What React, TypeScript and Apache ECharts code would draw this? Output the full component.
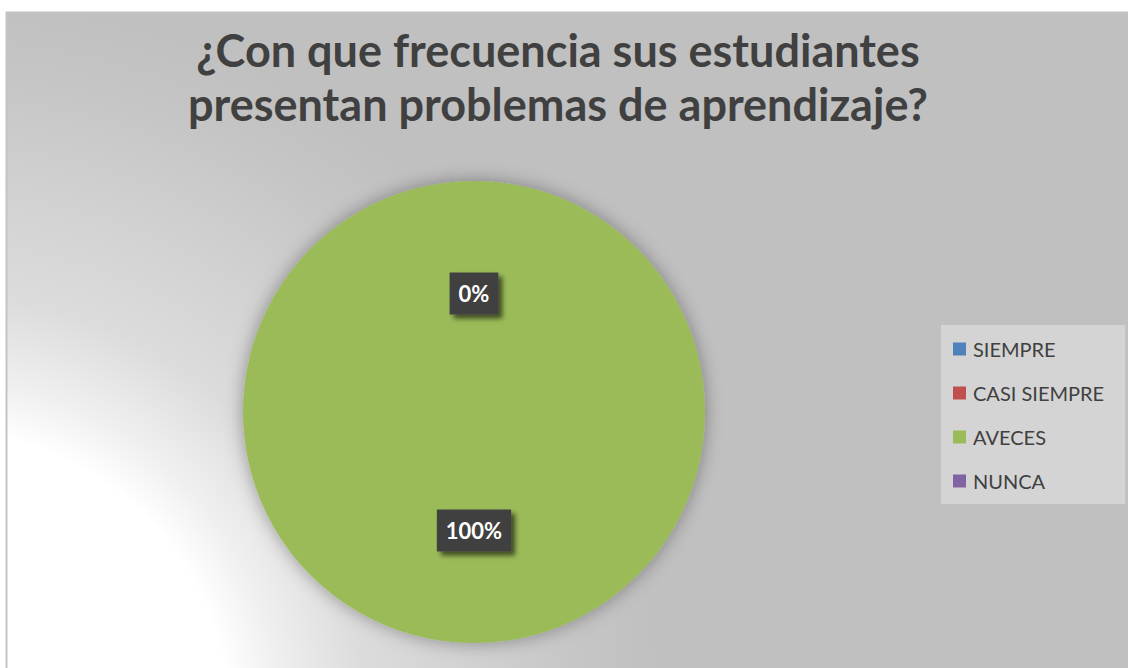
import React, { useEffect, useRef } from "react";
import * as echarts from "echarts";

const titleLines = ["¿Con que frecuencia sus estudiantes", "presentan problemas de aprendizaje?"];
const categories = ["SIEMPRE", "CASI SIEMPRE", "AVECES", "NUNCA"];
const values = [0, 0, 100, 0];
const colors = ["#4F81BD", "#C0504D", "#9BBB59", "#8064A2"];

export default function App() {
  const ref = useRef<HTMLDivElement>(null);
  useEffect(() => {
    if (!ref.current) return;
    const chart = echarts.init(ref.current, undefined, { renderer: "svg" });
    chart.setOption({
      animation: false,
      color: colors,
      graphic: [
        {
          type: "rect",
          z: -10,
          silent: true,
          shape: { x: 6.5, y: 12.5, width: 1140, height: 680 },
          style: {
            fill: {
              type: "radial",
              global: true,
              x: -60,
              y: 720,
              r: 720,
              colorStops: [
                { offset: 0, color: "#ffffff" },
                { offset: 0.4, color: "#ffffff" },
                { offset: 0.47, color: "#f0f0f0" },
                { offset: 0.59, color: "#dcdcdc" },
                { offset: 0.73, color: "#d2d2d2" },
                { offset: 0.9, color: "#c5c5c5" },
                { offset: 1, color: "#c0c0c0" },
              ],
            },
            stroke: "#c4c4c4",
            lineWidth: 2,
          },
        },
      ],
      title: {
        text: titleLines.join("\n"),
        left: 553,
        textAlign: "center",
        top: 18,
        textStyle: {
          fontFamily: "Lato",
          fontWeight: "bold",
          fontSize: 45,
          lineHeight: 54,
          color: "#404040",
        },
      },
      legend: {
        orient: "vertical",
        left: 941,
        top: 325,
        padding: [14, 21, 13, 12],
        backgroundColor: "#d4d4d4",
        itemWidth: 13,
        itemHeight: 13,
        itemGap: 24,
        icon: "rect",
        selectedMode: false,
        data: categories,
        textStyle: { fontFamily: "Lato", fontSize: 20, color: "#404040", padding: [0, 0, 0, 2] },
      },
      series: [
        {
          type: "pie",
          center: [474, 412],
          radius: 231,
          startAngle: 90,
          clockwise: true,
          avoidLabelOverlap: false,
          data: categories.map((c, i) => ({ name: c, value: values[i] })),
          itemStyle: { shadowBlur: 18, shadowColor: "rgba(0,0,0,0.35)" },
          label: {
            show: true,
            position: "inside",
            formatter: (p: any) => Math.round(p.percent) + "%",
            fontFamily: "Lato",
            fontWeight: "bold",
            fontSize: 22,
            color: "#ffffff",
            backgroundColor: "#404040",
            padding: [10, 9],
            shadowColor: "rgba(0,0,0,0.6)",
            shadowBlur: 5,
            shadowOffsetX: 4,
            shadowOffsetY: 4,
          },
          labelLine: { show: false },
          emphasis: { disabled: true },
        },
      ],
    });
    return () => chart.dispose();
  }, []);
  return (
    <div
      ref={ref}
      style={{ position: "fixed", left: 0, top: 0, width: 1128, height: 668, background: "#ffffff" }}
    />
  );
}
